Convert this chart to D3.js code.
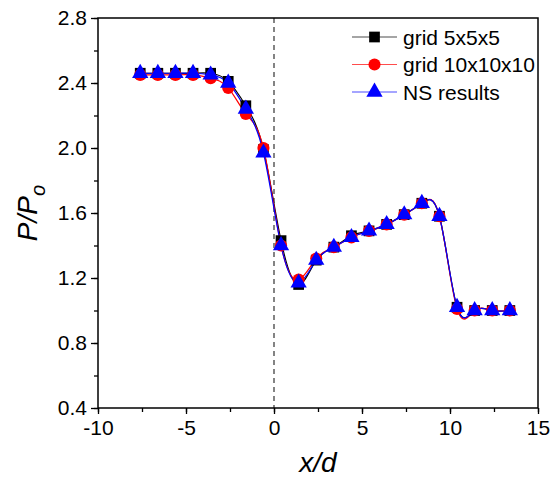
<!DOCTYPE html>
<html>
<head>
<meta charset="utf-8">
<script src="https://cdn.jsdelivr.net/npm/d3@7"></script>
<style>
  html, body { margin: 0; padding: 0; background: #fff; }
  svg { display: block; }
  text { font-family: "Liberation Sans", Arial, sans-serif; fill: #000; }
</style>
</head>
<body>
<svg id="chart" width="559" height="481"></svg>
<script>
// Streamwise positions (x/d) of the sampled wall-pressure points
const xPositions = [-7.6, -6.6, -5.6, -4.6, -3.6, -2.6, -1.6, -0.6, 0.4, 1.4, 2.4,
                    3.4, 4.4, 5.4, 6.4, 7.4, 8.4, 9.4, 10.4, 11.4, 12.4, 13.4];

// Pressure ratio P/Po for each run
const grid5 = [2.46, 2.46, 2.46, 2.46, 2.46, 2.41, 2.26, 1.99, 1.43, 1.16, 1.31,
               1.39, 1.46, 1.49, 1.53, 1.59, 1.66, 1.58, 1.02, 1.00, 1.00, 1.00];
const grid10 = [2.45, 2.45, 2.45, 2.45, 2.43, 2.37, 2.21, 2.00, 1.40, 1.19, 1.32,
                1.39, 1.45, 1.49, 1.53, 1.59, 1.66, 1.58, 1.01, 1.00, 1.00, 1.00];
const nsResults = [2.46, 2.46, 2.46, 2.46, 2.45, 2.40, 2.24, 1.97, 1.40, 1.17, 1.31,
                   1.39, 1.45, 1.49, 1.53, 1.59, 1.66, 1.58, 1.02, 1.00, 1.00, 1.00];

const seriesNames = ["grid 5x5x5", "grid 10x10x10", "NS results"];
const xTicks = [-10, -5, 0, 5, 10, 15];
const yTicks = [0.4, 0.8, 1.2, 1.6, 2.0, 2.4, 2.8];

const series = [
  { name: seriesNames[0], values: grid5, color: "#000000", symbol: d3.symbolSquare, size: 115 },
  { name: seriesNames[1], values: grid10, color: "#ff0000", symbol: d3.symbolCircle, size: 115 },
  { name: seriesNames[2], values: nsResults, color: "#0000ff", symbol: d3.symbolTriangle, size: 115 }
];

const svg = d3.select("#chart");
const m = { left: 98, right: 538, top: 18, bottom: 408 };

const x = d3.scaleLinear().domain([-10, 15]).range([m.left, m.right]);
const y = d3.scaleLinear().domain([0.4, 2.8]).range([m.bottom, m.top]);

// Plain hyphen for negative tick values
const fmtX = d => String(d);

// Axes with outward major ticks and shorter minor ticks
const xMinor = d3.range(-10, 15.01, 2.5);
const yMinor = d3.range(0.4, 2.801, 0.2);

const gx = svg.append("g").attr("transform", `translate(0,${m.bottom})`);
gx.call(d3.axisBottom(x).tickValues(xMinor).tickSize(4).tickFormat(""));
gx.call(g => g.selectAll(".domain").remove());
const gxMaj = svg.append("g").attr("transform", `translate(0,${m.bottom})`)
  .call(d3.axisBottom(x).tickValues(xTicks).tickSize(6).tickPadding(6).tickFormat(fmtX));
gxMaj.select(".domain").remove();
gxMaj.selectAll("text").style("font-size", "21px").attr("fill", "#000");

const gy = svg.append("g").attr("transform", `translate(${m.left},0)`);
gy.call(d3.axisLeft(y).tickValues(yMinor).tickSize(4).tickFormat(""));
gy.call(g => g.selectAll(".domain").remove());
const gyMaj = svg.append("g").attr("transform", `translate(${m.left},0)`)
  .call(d3.axisLeft(y).tickValues(yTicks).tickSize(7).tickPadding(4).tickFormat(d3.format(".1f")));
gyMaj.select(".domain").remove();
gyMaj.selectAll("text").style("font-size", "21px").attr("fill", "#000");

svg.selectAll(".tick line").attr("stroke", "#000").attr("stroke-width", 1.3);

// Zero line marking the jet location
svg.append("line")
  .attr("x1", x(0)).attr("x2", x(0))
  .attr("y1", y(2.8)).attr("y2", y(0.4))
  .attr("stroke", "#333").attr("stroke-width", 1.2)
  .attr("stroke-dasharray", "5,4");

// Smooth connecting curves
const line = d3.line()
  .x((d, i) => x(xPositions[i]))
  .y(d => y(d))
  .curve(d3.curveNatural);

series.forEach(s => {
  svg.append("path")
    .datum(s.values)
    .attr("d", line)
    .attr("fill", "none")
    .attr("stroke", s.color)
    .attr("stroke-width", 1.2);
});

// Markers
series.forEach(s => {
  svg.append("g").selectAll("path")
    .data(s.values)
    .join("path")
    .attr("transform", (d, i) => `translate(${x(xPositions[i])},${y(d)})`)
    .attr("d", d3.symbol().type(s.symbol).size(s.size))
    .attr("fill", s.color);
});

// Plot frame
svg.append("rect")
  .attr("x", m.left).attr("y", m.top)
  .attr("width", m.right - m.left).attr("height", m.bottom - m.top)
  .attr("fill", "none").attr("stroke", "#000").attr("stroke-width", 1.5);

// Legend
const legend = svg.append("g");
series.forEach((s, i) => {
  const ly = 37 + i * 27.5;
  legend.append("line")
    .attr("x1", 352).attr("x2", 397).attr("y1", ly).attr("y2", ly)
    .attr("stroke", s.color).attr("stroke-width", 1.2).attr("stroke-opacity", 0.7);
  legend.append("path")
    .attr("transform", `translate(374.5,${ly})`)
    .attr("d", d3.symbol().type(s.symbol).size(s.size))
    .attr("fill", s.color);
  legend.append("text")
    .attr("x", 403).attr("y", ly + 7.5)
    .style("font-size", "21px")
    .text(s.name);
});

// Axis titles
svg.append("text")
  .attr("x", (m.left + m.right) / 2).attr("y", 472)
  .attr("text-anchor", "middle")
  .style("font-size", "28px").style("font-style", "italic")
  .text("x/d");

const yTitle = svg.append("text")
  .attr("transform", `translate(37,${(m.top + m.bottom) / 2}) rotate(-90)`)
  .attr("text-anchor", "middle")
  .style("font-size", "28px").style("font-style", "italic");
yTitle.append("tspan").text("P/P");
yTitle.append("tspan").attr("dy", 8).style("font-size", "20px").text("o");
</script>
</body>
</html>
